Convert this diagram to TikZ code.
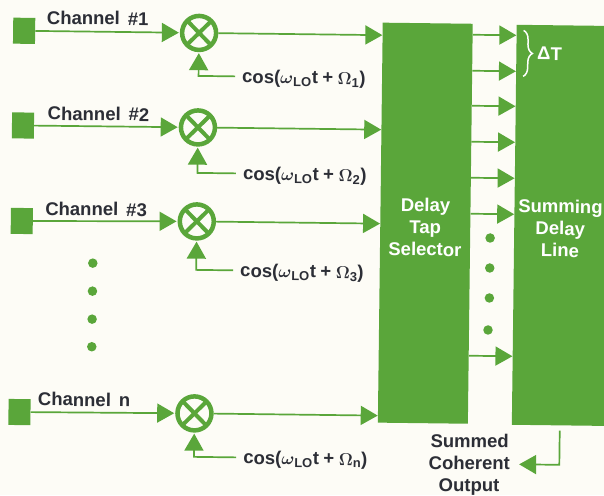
\documentclass[tikz,border=0pt]{standalone}
\usepackage{amsmath}
\usepackage{fontspec}
\setmainfont{Liberation Sans}
\usetikzlibrary{arrows.meta}
\usetikzlibrary{decorations.pathreplacing}
\definecolor{hpgreen}{HTML}{5AA63A}
\definecolor{paper}{HTML}{FDFCF6}
\definecolor{ink}{HTML}{2C2E36}
\newcommand{\txtfont}{\fontsize{18.5}{22}\selectfont\bfseries\spaceskip=8pt\relax}
\newcommand{\lofreq}[1]{cos($\boldsymbol{\omega}_{\text{LO}}$t\kern4.5pt+\kern4.5pt$\boldsymbol{\Omega}_{\text{#1}}$)}
\tikzset{flow/.style = {-{Triangle[length = 17pt, width = 19pt]}, draw = hpgreen, line width = 1.7}}
\tikzset{circ/.style = {fill = hpgreen, circle, inner sep = 0, minimum size = 9.5}}
\tikzset{src/.style = {fill = hpgreen, inner sep = 0, minimum width = 22, minimum height = 26}}
\tikzset{txt/.style = {text = ink, font = \txtfont, inner sep = 0}}
\tikzset{boxtxt/.style = {text = white, font = \txtfont, inner sep = 0, align = center}}
\tikzset{bigbox/.style = {fill = hpgreen, inner sep = 0, minimum height = 400}}
\tikzset{mixer/.style = {circle, draw = hpgreen, line width = 4.5, minimum size = 34, inner sep = 0,
                         path picture = {\draw [hpgreen, line width = 4]
                                         (path picture bounding box.center) +(-14, -14) -- +(14, 14)
                                         (path picture bounding box.center) +(-14, 14) -- +(14, -14);}}}

\begin{document}
\begin{tikzpicture}[x = 1pt, y = -1pt]
    \useasboundingbox [fill = paper] (0, 0) rectangle (604, 495);
    \clip (0, 0) rectangle (604, 495);
  \begin{scope}[rotate = -0.7, transform shape]
    \node (selector) at (428, 218) [bigbox, minimum width = 90] {};
    \node (summer) at (565, 218.5) [bigbox, minimum width = 96] {};
    \node (seltxt) at (428, 222) [boxtxt] {Delay\\Tap\\Selector};
    \node (sumtxt) at (563, 221.5) [boxtxt] {Summing\\Delay\\Line};

    \node (src1) at (24.5, 30.5) [src] {};
    \node (mix1) at (199.5, 30.5) [mixer] {};
    \node (chan1) at (47, 23.5) [txt, anchor = base west] {Channel \#1};
    \node (lo1) at (243, 80) [txt, anchor = base west] {\lofreq{1}};
    \draw [flow, shorten > = 1] (src1) -- (mix1);
    \draw [flow] (mix1) -- (mix1 -| selector.west);
    \draw [flow, shorten > = 1] ([yshift = 6.5] lo1.base west) [shorten < = 7] -| (mix1.south);

    \node (src2) at (24.5, 125.2) [src] {};
    \node (mix2) at (199.5, 125) [mixer] {};
    \node (chan2) at (49, 119.4) [txt, anchor = base west] {Channel \#2};
    \node (lo2) at (245, 177) [txt, anchor = base west] {\lofreq{2}};
    \draw [flow, shorten > = 1] (src2) -- (mix2);
    \draw [flow] (mix2) -- (mix2 -| selector.west);
    \draw [flow, shorten > = 1] ([yshift = 6.5] lo2.base west) [shorten < = 7] -| (mix2.south);

    \node (src3) at (24.5, 220.7) [src] {};
    \node (mix3) at (199.5, 219) [mixer] {};
    \node (chan3) at (47.7, 214.5) [txt, anchor = base west] {Channel \#3};
    \node (lo3) at (243.4, 274) [txt, anchor = base west] {\lofreq{3}};
    \draw [flow, shorten > = 1] (src3) -- (mix3);
    \draw [flow] (mix3) -- (mix3 -| selector.west);
    \draw [flow, shorten > = 1] ([yshift = 6.5] lo3.base west) [shorten < = 7] -| (mix3.south);

    \node (src4) at (24.5, 411.8) [src] {};
    \node (mix4) at (199.5, 411) [mixer] {};
    \node (chan4) at (42.7, 405.2) [txt, anchor = base west] {Channel n};
    \node (lo4) at (248.7, 461) [txt, anchor = base west] {\lofreq{n}};
    \draw [flow, shorten > = 1] (src4) -- (mix4);
    \draw [flow] (mix4) -- (mix4 -| selector.west);
    \draw [flow, shorten > = 1] ([yshift = 6.5] lo4.base west) [shorten < = 7] -| (mix4.south);

    \node (dot1) at (96, 262) [circ] {};
    \node (dot2) at (96, 290) [circ] {};
    \node (dot3) at (96, 318) [circ] {};
    \node (dot4) at (96, 345.6) [circ] {};

    \draw [flow] ([yshift = 189] selector.east) -- ([yshift = 189.5] summer.west);
    \draw [flow] ([yshift = 153] selector.east) -- ([yshift = 153.5] summer.west);
    \draw [flow] ([yshift = 118] selector.east) -- ([yshift = 118.5] summer.west);
    \draw [flow] ([yshift = 82] selector.east) -- ([yshift = 82.5] summer.west);
    \draw [flow] ([yshift = 46] selector.east) -- ([yshift = 46.5] summer.west);
    \draw [flow] ([yshift = 10] selector.east) -- ([yshift = 10.5] summer.west);
    \draw [flow] ([yshift = -132] selector.east) -- ([yshift = -131.5] summer.west);

    \node (tap1) at (493, 232) [circ] {};
    \node (tap2) at (493, 262) [circ] {};
    \node (tap3) at (493, 292) [circ] {};
    \node (tap4) at (492, 324) [circ] {};

    \draw [white, line width = 1.5, decorate, decoration = {brace, amplitude = 9}]
          (524, 24) -- (524, 70);
    \node (delta) at (537.7, 53.4) [boxtxt, anchor = base west] {ΔT};

    \node (output) at (475, 459) [txt, align = center] {Summed\\Coherent\\Output};
    \draw [flow, shorten > = 9] ([yshift = -5] summer.south) |- ([yshift = 1] output.east);
  \end{scope}
\end{tikzpicture}
\end{document}
